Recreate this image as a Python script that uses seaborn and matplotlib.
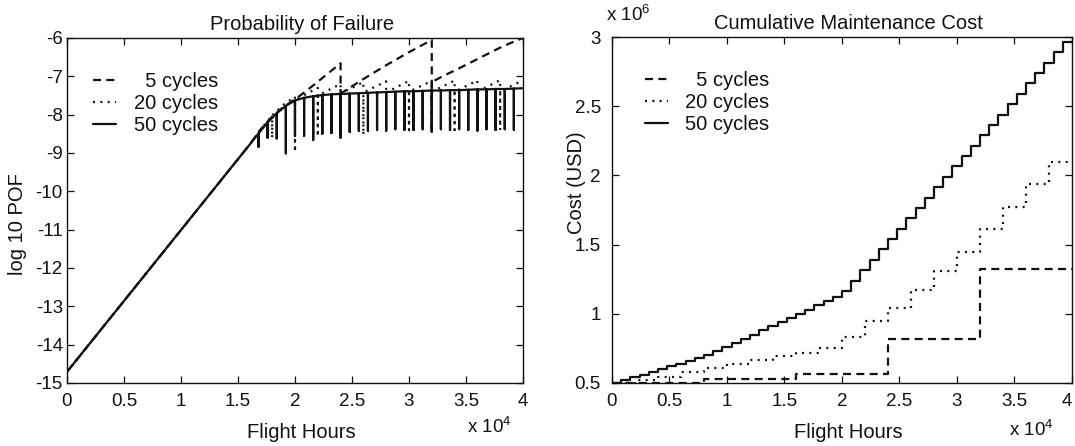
import matplotlib
matplotlib.use("Agg")
import matplotlib.pyplot as plt
import matplotlib.transforms as mtransforms
import numpy as np
import pandas as pd
import seaborn as sns
from matplotlib.ticker import FuncFormatter

# ---------------- data ----------------
series_labels = ["\u20075 cycles", "20 cycles", "50 cycles"]

# --- Probability of failure (log10 POF) ---
# 5 cycles: envelope points + maintenance teeth
pof5_hours = [0, 16000, 17000, 18000, 19000, 20000, 21000, 22000, 23000, 24000,
              25000, 26000, 27000, 28000, 29000, 30000, 31000, 32000,
              33000, 34000, 35000, 36000, 37000, 38000, 39000, 40000]
pof5_values = [-14.71, -8.79, -8.38, -8.05, -7.80, -7.60, -7.38, -7.14, -6.90, -6.66,
               -7.26, -7.07, -6.89, -6.71, -6.54, -6.37, -6.21, -6.05,
               -6.99, -6.85, -6.70, -6.55, -6.40, -6.25, -6.12, -6.00]
pof5_tooth_hours = [24000, 32000]
pof5_tooth_bottom = [-8.62, -8.47]
pof5_tooth_restart = [-7.45, -7.15]

# 20 cycles
pof20_hours = [0, 16000, 17000, 18000, 19000, 20000, 22000, 24000, 26000, 28000,
               30000, 32000, 34000, 36000, 38000, 40000]
pof20_values = [-14.71, -8.79, -8.38, -8.02, -7.74, -7.53, -7.30, -7.20, -7.15, -7.13,
                -7.12, -7.12, -7.11, -7.11, -7.10, -7.10]
pof20_tooth_hours = [18000, 20000, 22000, 24000, 26000, 28000, 30000, 32000, 34000, 36000, 38000]
pof20_tooth_bottom = [-8.61, -8.97, -8.57, -8.60, -8.53, -8.42, -8.40, -8.42, -8.40, -8.41, -8.40]
pof20_tooth_restart = [-8.02, -7.62, -7.50, -7.45, -7.42, -7.42, -7.40, -7.40, -7.40, -7.40, -7.40]

# 50 cycles
pof50_hours = [0, 16000, 16800, 17600, 18400, 19200, 20000, 20800, 21600, 22400, 23200,
               24000, 24800, 25600, 26400, 27200, 28000, 28800, 29600, 30400, 31200,
               32000, 32800, 33600, 34400, 35200, 36000, 36800, 37600, 38400, 39200, 40000]
pof50_values = [-14.71, -8.79, -8.49, -8.20, -7.96, -7.77, -7.63, -7.56, -7.52, -7.49, -7.47,
                -7.46, -7.45, -7.44, -7.43, -7.42, -7.41, -7.40, -7.39, -7.39, -7.38,
                -7.37, -7.37, -7.36, -7.36, -7.35, -7.34, -7.34, -7.33, -7.33, -7.32, -7.31]
pof50_tooth_hours = [16800, 17600, 18400, 19200, 20000, 20800, 21600, 22400, 23200,
                     24000, 24800, 25600, 26400, 27200, 28000, 28800, 29600, 30400, 31200,
                     32000, 32800, 33600, 34400, 35200, 36000, 36800, 37600, 38400, 39200]
pof50_tooth_bottom = [-8.84, -8.60, -8.62, -9.01, -8.55, -8.55, -8.66, -8.50, -8.48,
                      -8.55, -8.45, -8.42, -8.42, -8.40, -8.42, -8.38, -8.40, -8.40, -8.38,
                      -8.44, -8.38, -8.40, -8.38, -8.40, -8.42, -8.38, -8.40, -8.38, -8.40]

# --- Cumulative maintenance cost (USD) ---
cost5_hours = [0, 8000, 16000, 24000, 32000, 40000]
cost5_values = [0.50e6, 0.53e6, 0.565e6, 0.815e6, 1.325e6, 1.325e6]

cost20_hours = [0, 2000, 4000, 6000, 8000, 10000, 12000, 14000, 16000, 18000, 20000,
                22000, 24000, 26000, 28000, 30000, 32000, 34000, 36000, 38000, 40000]
cost20_values = [0.50e6, 0.52e6, 0.545e6, 0.58e6, 0.61e6, 0.64e6, 0.665e6, 0.695e6, 0.72e6,
                 0.755e6, 0.83e6, 0.95e6, 1.04e6, 1.17e6, 1.31e6, 1.45e6, 1.61e6, 1.77e6,
                 1.94e6, 2.10e6, 2.10e6]

cost50_hours = [0, 800, 1600, 2400, 3200, 4000, 4800, 5600, 6400, 7200, 8000, 8800, 9600,
                10400, 11200, 12000, 12800, 13600, 14400, 15200, 16000, 16800, 17600, 18400,
                19200, 20000, 20800, 21600, 22400, 23200, 24000, 24800, 25600, 26400, 27200,
                28000, 28800, 29600, 30400, 31200, 32000, 32800, 33600, 34400, 35200, 36000,
                36800, 37600, 38400, 39200, 40000]
cost50_values = [0.50e6, 0.52e6, 0.54e6, 0.56e6, 0.58e6, 0.60e6, 0.62e6, 0.64e6, 0.66e6,
                 0.68e6, 0.70e6, 0.73e6, 0.76e6, 0.79e6, 0.82e6, 0.85e6, 0.88e6, 0.91e6,
                 0.94e6, 0.97e6, 1.00e6, 1.03e6, 1.06e6, 1.09e6, 1.12e6, 1.165e6, 1.24e6,
                 1.315e6, 1.39e6, 1.465e6, 1.54e6, 1.615e6, 1.69e6, 1.765e6, 1.84e6, 1.915e6,
                 1.99e6, 2.065e6, 2.14e6, 2.215e6, 2.29e6, 2.365e6, 2.44e6, 2.515e6, 2.59e6,
                 2.665e6, 2.74e6, 2.815e6, 2.89e6, 2.965e6, 2.965e6]

x_ticks = [0, 5000, 10000, 15000, 20000, 25000, 30000, 35000, 40000]
pof_ticks = [-15, -14, -13, -12, -11, -10, -9, -8, -7, -6]
cost_ticks = [0.5e6, 1.0e6, 1.5e6, 2.0e6, 2.5e6, 3.0e6]


def sawtooth(hours, values, t_hours, t_bottom, t_restart=None):
    if t_restart is None:
        t_restart = [values[hours.index(h)] for h in t_hours]
    teeth = {h: (b, r) for h, b, r in zip(t_hours, t_bottom, t_restart)}
    xs, ys = [], []
    for h, v in zip(hours, values):
        xs.append(h)
        ys.append(v)
        if h in teeth:
            b, r = teeth[h]
            xs += [h, h]
            ys += [b, r]
    return pd.DataFrame({"hours": xs, "logpof": ys})


pof_frames = [
    sawtooth(pof5_hours, pof5_values, pof5_tooth_hours, pof5_tooth_bottom, pof5_tooth_restart),
    sawtooth(pof20_hours, pof20_values, pof20_tooth_hours, pof20_tooth_bottom, pof20_tooth_restart),
    sawtooth(pof50_hours, pof50_values, pof50_tooth_hours, pof50_tooth_bottom),
]
cost_frames = [
    pd.DataFrame({"hours": cost5_hours, "cost": cost5_values}),
    pd.DataFrame({"hours": cost20_hours, "cost": cost20_values}),
    pd.DataFrame({"hours": cost50_hours, "cost": cost50_values}),
]

# ---------------- style ----------------
sns.set_theme(style="ticks")
plt.rcParams["font.family"] = ["Liberation Sans", "DejaVu Sans"]
plt.rcParams["axes.unicode_minus"] = False
plt.rcParams["mathtext.fontset"] = "custom"
plt.rcParams["mathtext.rm"] = "Liberation Sans"
plt.rcParams["mathtext.it"] = "Liberation Sans"

INK = "#111111"
LW = 1.6
line_styles = [dict(linestyle=(0, (3.6, 2.4))), dict(linestyle=(0, (0.9, 2.4))), dict(linestyle="-")]
FS_TXT = 14.5
FS_TICK = 13.5

fig = plt.figure(figsize=(10.75, 4.46), dpi=100)
fig.patch.set_facecolor("white")
ax1 = fig.add_axes([0.0623, 0.1413, 0.4242, 0.7735])
ax2 = fig.add_axes([0.5693, 0.1413, 0.4279, 0.7757])

for df, lab, st in zip(pof_frames, series_labels, line_styles):
    sns.lineplot(data=df, x="hours", y="logpof", ax=ax1, sort=False, estimator=None,
                 color=INK, linewidth=LW, label=lab, **st)

for df, lab, st in zip(cost_frames, series_labels, line_styles):
    sns.lineplot(data=df, x="hours", y="cost", ax=ax2, estimator=None,
                 color=INK, linewidth=LW, label=lab, drawstyle="steps-post", **st)

xfmt = FuncFormatter(lambda v, p: f"{v/1e4:g}")
for ax, anchor in ((ax1, (0.018, 0.955)), (ax2, (0.032, 0.955))):
    ax.set_xlim(0, 40000)
    ax.set_xticks(x_ticks)
    ax.xaxis.set_major_formatter(xfmt)
    ax.tick_params(direction="in", top=True, right=True, length=5, width=0.9,
                   labelsize=FS_TICK, colors=INK)
    for s in ax.spines.values():
        s.set_linewidth(1.0)
        s.set_color(INK)
    ax.set_xlabel("Flight Hours", fontsize=FS_TXT, color=INK)
    ax.xaxis.set_label_coords(0.513, -0.115)
    ax.tick_params(axis="x", pad=7)
    leg = ax.legend(loc="upper left", bbox_to_anchor=anchor, frameon=False,
                    fontsize=FS_TXT, handlelength=1.15, handletextpad=0.85, labelspacing=0.15,
                    borderaxespad=0.5)
    for t in leg.get_texts():
        t.set_color(INK)

ax1.set_ylim(-15, -6)
ax1.set_yticks(pof_ticks)
ax1.tick_params(axis="y", pad=3)
ax1.set_ylabel("log 10 POF", fontsize=FS_TXT, color=INK)
ax1.yaxis.set_label_coords(-0.088, 0.46)
ax1.set_title("Probability of Failure", fontsize=FS_TXT, color=INK, pad=6, x=0.515)
ax1.text(0.975, -0.127, r"x 10$^{4}$", transform=ax1.transAxes, ha="right", va="center",
         fontsize=FS_TICK, color=INK)

ax2.set_ylim(0.5e6, 3.0e6)
ax2.set_yticks(cost_ticks)
ax2.yaxis.set_major_formatter(FuncFormatter(lambda v, p: f"{v/1e6:g}"))
ax2.tick_params(axis="y", pad=8)
ax2.set_ylabel("Cost (USD)", fontsize=FS_TXT, color=INK)
ax2.yaxis.set_label_coords(-0.057, 0.58)
ax2.set_title("Cumulative Maintenance Cost", fontsize=FS_TXT, color=INK, pad=6, x=0.515)
ax2.text(-0.012, 1.065, r"x 10$^{6}$", transform=ax2.transAxes, ha="left", va="center",
         fontsize=FS_TICK, color=INK)
ax2.text(0.96, -0.137, r"x 10$^{4}$", transform=ax2.transAxes, ha="right", va="center",
         fontsize=FS_TICK, color=INK)

# keep the last x tick label of the right panel inside the figure
last_tick = ax2.xaxis.get_major_ticks()[-1]
last_tick.label1.set_transform(last_tick.label1.get_transform()
                               + mtransforms.ScaledTranslation(-5 / 100, 0, fig.dpi_scale_trans))

fig.savefig("out.png", dpi=100, facecolor="white")
